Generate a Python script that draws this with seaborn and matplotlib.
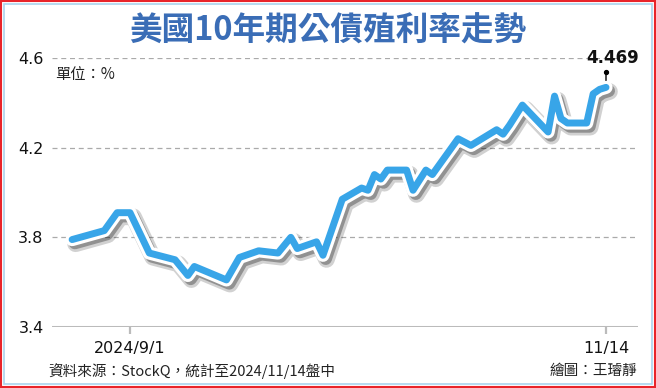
import matplotlib
matplotlib.use("Agg")
import matplotlib.pyplot as plt
import matplotlib.dates as mdates
import matplotlib.patheffects as pe
from matplotlib.patches import Rectangle
from matplotlib.transforms import offset_copy
import seaborn as sns
import pandas as pd

# ---- data ----
dates = ["2024-08-23", "2024-08-28", "2024-08-30", "2024-09-01", "2024-09-04",
         "2024-09-08", "2024-09-10", "2024-09-11", "2024-09-16", "2024-09-18",
         "2024-09-21", "2024-09-24", "2024-09-26", "2024-09-27", "2024-09-30",
         "2024-10-01", "2024-10-04", "2024-10-07", "2024-10-08", "2024-10-09",
         "2024-10-10", "2024-10-11", "2024-10-14", "2024-10-15", "2024-10-17",
         "2024-10-18", "2024-10-21", "2024-10-22", "2024-10-24", "2024-10-28",
         "2024-10-29", "2024-10-30", "2024-11-01", "2024-11-05", "2024-11-06",
         "2024-11-07", "2024-11-08", "2024-11-11", "2024-11-12", "2024-11-13",
         "2024-11-14"]
yields = [3.79, 3.83, 3.91, 3.91, 3.73,
          3.70, 3.63, 3.67, 3.61, 3.71,
          3.74, 3.73, 3.80, 3.75, 3.78,
          3.72, 3.97, 4.02, 4.01, 4.08,
          4.06, 4.10, 4.10, 4.01, 4.10,
          4.08, 4.20, 4.24, 4.21, 4.28,
          4.26, 4.30, 4.39, 4.27, 4.43,
          4.33, 4.31, 4.31, 4.44, 4.46,
          4.469]
y_ticks = [3.4, 3.8, 4.2, 4.6]
y_ticklabels = ["3.4", "3.8", "4.2", "4.6"]
x_ticks = ["2024-09-01", "2024-11-14"]
x_ticklabels = ["2024/9/1", "11/14"]
title = "美國10年期公債殖利率走勢"
unit = "單位：%"
source = "資料來源：StockQ，統計至2024/11/14盤中"
credit = "繪圖：王璿靜"
last_label = "4.469"

df = pd.DataFrame({"date": pd.to_datetime(dates), "yield": yields})

sns.set_style("white")
plt.rcParams["font.family"] = ["Noto Sans CJK TC", "DejaVu Sans"]

W, H = 656, 388
fig = plt.figure(figsize=(W / 100, H / 100), dpi=100)
ax = fig.add_axes([52 / W, 1 - 327 / H, (638 - 52) / W, (327 - 58) / H])

line_color = "#38A5E8"
sns.lineplot(data=df, x="date", y="yield", ax=ax, color=line_color,
             linewidth=5.0, solid_capstyle="round", solid_joinstyle="round")
ln = ax.lines[0]
ln.set_clip_on(False)
ln.set_path_effects([
    pe.SimpleLineShadow(offset=(2.5, -3), shadow_color="black", alpha=0.18, linewidth=12),
    pe.SimpleLineShadow(offset=(2, -2.5), shadow_color="black", alpha=0.3, linewidth=9),
    pe.Stroke(linewidth=9.5, foreground="white", capstyle="round", joinstyle="round"),
    pe.Normal(),
])
ln.set_zorder(5)

x0 = mdates.date2num(pd.Timestamp("2024-09-01"))
ppd = (606 - 130) / 74.0
ax.set_xlim(x0 - (130 - 52) / ppd, x0 + (638 - 130) / ppd)
ax.set_ylim(3.4, 4.6)

# grid
for v in y_ticks[1:]:
    ax.axhline(v, color="#AAAAAA", lw=0.9, ls=(0, (4, 3)), zorder=1)
ax.axhline(3.4, color="#BBBBBB", lw=2.2, zorder=2)

for s in ax.spines.values():
    s.set_visible(False)

ax.set_yticks(y_ticks)
ax.set_yticklabels(y_ticklabels, fontsize=11.5, family="DejaVu Sans", color="#111111")
ax.tick_params(axis="y", length=0, pad=6, left=False)
ax.set_xticks(pd.to_datetime(x_ticks))
ax.set_xticklabels(x_ticklabels, fontsize=11.5, family="DejaVu Sans", color="#111111")
ax.tick_params(axis="x", bottom=True, length=5, width=1.6, color="#BBBBBB", pad=5,
               direction="out")
ax.set_xlabel("")
ax.set_ylabel("")

# annotation of last value
lx, lyv = df["date"].iloc[-1], yields[-1]
ax.annotate("", xy=(lx, lyv), xytext=(0, 11), textcoords="offset points",
            arrowprops=dict(arrowstyle="-", color="black", lw=1, shrinkA=0, shrinkB=0),
            annotation_clip=False)
trans = offset_copy(ax.transData, fig=fig, x=0, y=11, units="points")
ax.plot([lx], [lyv], "o", color="black", ms=2.8, transform=trans, clip_on=False, zorder=6)
ax.annotate(last_label, xy=(lx, lyv), xytext=(5, 21), textcoords="offset points",
            ha="center", va="center", fontsize=12, fontweight="bold",
            family="DejaVu Sans", color="#111111", annotation_clip=False)

# texts
fig.text(328 / W, 1 - 31 / H, title, ha="center", va="center", fontsize=23.5,
         fontweight="bold", color="#3A6DB6")
fig.text(55 / W, 1 - 75 / H, unit, ha="left", va="center", fontsize=11, color="#222222")
fig.text(48 / W, 1 - 371 / H, source, ha="left", va="center", fontsize=10.5, color="#222222")
fig.text(637 / W, 1 - 371 / H, credit, ha="right", va="center", fontsize=10.5, color="#222222")

# frame
fig.patches.append(Rectangle((0.75 / W, 0.75 / H), 1 - 1.5 / W, 1 - 1.5 / H,
                             transform=fig.transFigure, fill=False, ec="#E8242A", lw=1.5))
fig.patches.append(Rectangle((4 / W, 4 / H), 1 - 8 / W, 1 - 8 / H,
                             transform=fig.transFigure, fill=False, ec="#A9D4EE", lw=1.2))

fig.savefig("out.png", dpi=100)
